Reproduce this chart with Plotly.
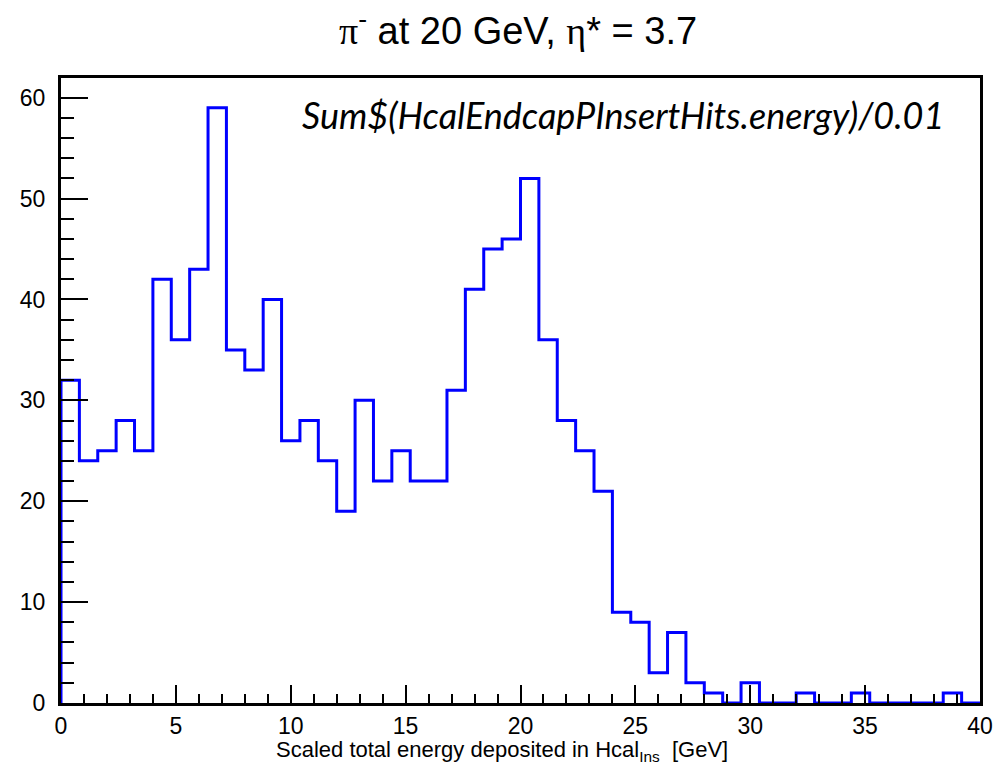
import plotly.graph_objects as go

# Histogram data (50 bins, 0..40, width 0.8)
bin_low = 0.0
bin_width = 0.8
counts = [32, 24, 25, 28, 25, 42, 36, 43, 59, 35,
          33, 40, 26, 28, 24, 19, 30, 22, 25, 22,
          22, 31, 41, 45, 46, 52, 36, 28, 25, 21,
          9, 8, 3, 7, 2, 1, 0, 2, 0, 0,
          1, 0, 0, 1, 0, 0, 0, 0, 1, 0]
x_ticks = [0, 5, 10, 15, 20, 25, 30, 35, 40]
y_ticks = [0, 10, 20, 30, 40, 50, 60]

n = len(counts)
edges = [bin_low + i * bin_width for i in range(n + 1)]
xs = [edges[0]] + edges[:-1] + [edges[-1]]
ys = [0] + counts + [0]
ymax = max(counts) * 1.05

fig = go.Figure()
fig.add_trace(go.Scatter(x=xs, y=ys, mode="lines", line=dict(color="#0000ff", width=3, shape="hv"),
                         hoverinfo="skip", showlegend=False, cliponaxis=False))

axis_font = dict(family="Liberation Sans, Arial, sans-serif", size=23, color="black")
fig.update_layout(
    width=1006, height=764,
    margin=dict(l=61, r=26, t=78, b=61),
    paper_bgcolor="white", plot_bgcolor="white",
    xaxis=dict(range=[edges[0], edges[-1]], tickvals=x_ticks, ticks="inside", ticklen=18, tickwidth=2,
               tickcolor="black", showline=True, linecolor="black", linewidth=3, mirror=True,
               showgrid=False, zeroline=False, tickfont=axis_font, ticklabelstandoff=0,
               minor=dict(dtick=1, ticks="inside", ticklen=9, tickwidth=2, tickcolor="black", showgrid=False)),
    yaxis=dict(range=[0, ymax], tickvals=y_ticks, ticks="inside", ticklen=27, tickwidth=2,
               tickcolor="black", showline=True, linecolor="black", linewidth=3, mirror=True,
               showgrid=False, zeroline=False, tickfont=axis_font, ticklabelstandoff=8,
               minor=dict(dtick=2, ticks="inside", ticklen=13, tickwidth=2, tickcolor="black", showgrid=False)),
)

fig.add_annotation(
    text="<span style='font-family:Liberation Serif'>π</span><sup>-</sup> at 20 GeV, <span style='font-family:Liberation Serif'>η</span>* = 3.7",
    xref="paper", yref="paper", x=0.497, y=1.0, yshift=50, xanchor="center", yanchor="middle",
    showarrow=False, font=dict(family="Liberation Sans, Arial, sans-serif", size=38, color="black"))

fig.add_annotation(
    text="Scaled total energy deposited in Hcal<sub>Ins</sub>  [GeV]",
    xref="paper", yref="paper", x=0.48, y=0, yshift=-48, xanchor="center", yanchor="middle",
    showarrow=False, font=dict(family="Liberation Sans, Arial, sans-serif", size=22, color="black"))

fig.add_annotation(
    text="<i>Sum$(HcalEndcapPInsertHits.energy)/0.01</i>",
    xref="paper", yref="paper", x=0.963, y=1.0, yshift=-37, xanchor="right", yanchor="middle",
    showarrow=False, font=dict(family="Lato, sans-serif", size=36, color="black"))

fig.write_html("out.html")
